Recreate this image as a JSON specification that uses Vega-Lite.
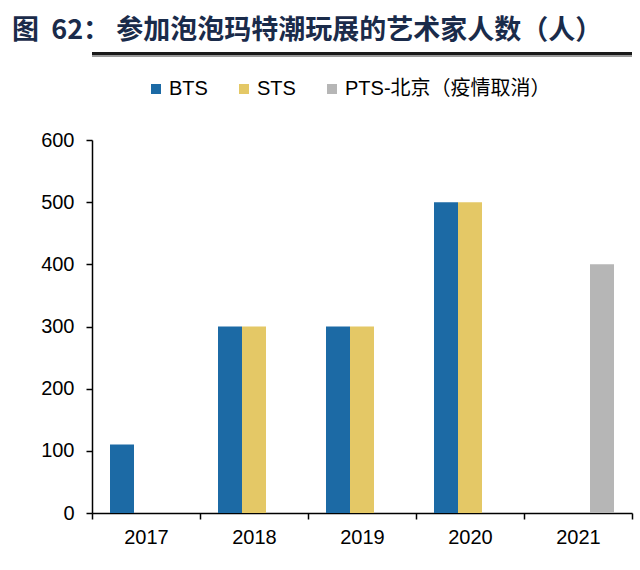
{
  "$schema": "https://vega.github.io/schema/vega-lite/v6.json",
  "width": 540,
  "height": 373,
  "autosize": {"type": "none"},
  "padding": {"left": 92, "top": 140, "right": 8, "bottom": 57},
  "background": "white",
  "title": {
    "text": "图\u00a0\u00a062：\u00a0参加泡泡玛特潮玩展的艺术家人数（人）",
    "anchor": "start",
    "frame": "group",
    "dx": -80,
    "offset": 7,
    "font": "Noto Sans CJK SC",
    "fontSize": 27,
    "fontWeight": "bold",
    "color": "#1a2b4a"
  },
  "config": {
    "view": {"stroke": null},
    "font": "Liberation Sans"
  },
  "data": {
    "values": [
      {"year": "2017", "series": "BTS", "value": 110},
      {"year": "2018", "series": "BTS", "value": 300},
      {"year": "2018", "series": "STS", "value": 300},
      {"year": "2019", "series": "BTS", "value": 300},
      {"year": "2019", "series": "STS", "value": 300},
      {"year": "2020", "series": "BTS", "value": 500},
      {"year": "2020", "series": "STS", "value": 500},
      {"year": "2021", "series": "PTS-北京（疫情取消）", "value": 400}
    ]
  },
  "layer": [
    {
      "mark": {"type": "bar"},
      "encoding": {
        "x": {
          "field": "year",
          "type": "nominal",
          "scale": {"paddingInner": 0, "paddingOuter": 0},
          "axis": {
            "title": null,
            "labelAngle": 0,
            "labelFont": "Liberation Sans",
            "labelFontSize": 20,
            "labelColor": "#000000",
            "labelPadding": 8,
            "domainColor": "#000000",
            "domainWidth": 1.5,
            "tickColor": "#000000",
            "tickWidth": 1.5,
            "tickSize": 6,
            "tickBand": "extent"
          }
        },
        "xOffset": {
          "field": "series",
          "type": "nominal",
          "scale": {"domain": ["BTS", "STS", "PTS-北京（疫情取消）"], "paddingInner": 0, "paddingOuter": 0.75}
        },
        "y": {
          "field": "value",
          "type": "quantitative",
          "scale": {"domain": [0, 600]},
          "axis": {
            "title": null,
            "values": [0, 100, 200, 300, 400, 500, 600],
            "grid": false,
            "labelFont": "Liberation Sans",
            "labelFontSize": 20,
            "labelColor": "#000000",
            "labelPadding": 12,
            "domainColor": "#000000",
            "domainWidth": 1.5,
            "tickColor": "#000000",
            "tickWidth": 1.5,
            "tickSize": 6
          }
        },
        "color": {
          "field": "series",
          "type": "nominal",
          "scale": {
            "domain": ["BTS", "STS", "PTS-北京（疫情取消）"],
            "range": ["#1c6aa5", "#e4c866", "#b6b6b6"]
          },
          "legend": {
            "title": null,
            "orient": "none",
            "direction": "horizontal",
            "legendX": 54,
            "legendY": -61,
            "symbolType": "square",
            "symbolSize": 100,
            "symbolStrokeWidth": 0,
            "labelFont": "Liberation Sans, Noto Sans CJK SC",
            "labelFontSize": 20,
            "labelColor": "#000000",
            "labelOffset": 3,
            "labelLimit": 400,
            "columnPadding": 26
          }
        }
      }
    },
    {
      "mark": {"type": "rule", "color": "#1a1a1a", "strokeWidth": 2.5, "clip": false},
      "encoding": {
        "y": {"datum": 739}
      }
    },
    {
      "mark": {"type": "rule", "color": "#9a9a9a", "strokeWidth": 1, "clip": false},
      "encoding": {
        "y": {"datum": 735}
      }
    }
  ]
}
